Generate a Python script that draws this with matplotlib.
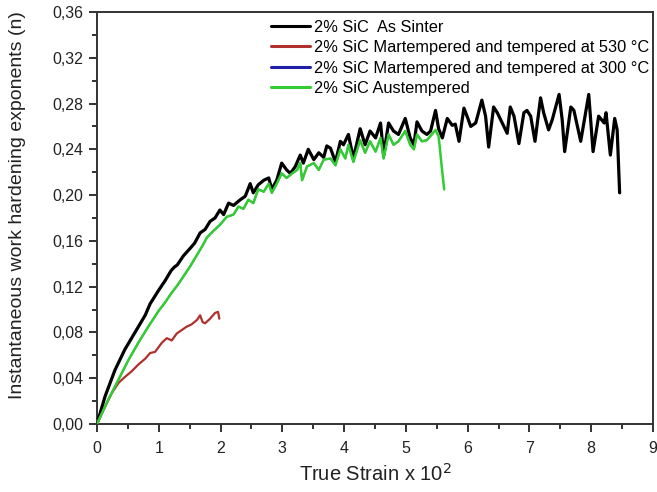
import matplotlib
matplotlib.use("Agg")
import matplotlib.pyplot as plt
from matplotlib.ticker import MultipleLocator, FuncFormatter

plt.rcParams['font.family'] = ['Liberation Sans', 'DejaVu Sans']

# 2% SiC as sintered
sinter_x = [0, 0.13, 0.29, 0.45, 0.56, 0.67, 0.78, 0.86, 1.0, 1.1,
            1.2, 1.25, 1.3, 1.4, 1.5, 1.58, 1.67, 1.75, 1.83, 1.91,
            1.99, 2.05, 2.13, 2.21, 2.32, 2.40, 2.48, 2.53, 2.61, 2.70,
            2.78, 2.83, 2.91, 2.99, 3.07, 3.13, 3.21, 3.29, 3.34, 3.42,
            3.51, 3.59, 3.67, 3.72, 3.78, 3.86, 3.94, 3.99, 4.07, 4.15,
            4.26, 4.34, 4.42, 4.51, 4.59, 4.64, 4.72, 4.80, 4.88, 4.99,
            5.07, 5.13, 5.18, 5.26, 5.34, 5.40, 5.48, 5.53, 5.59, 5.67,
            5.75, 5.80, 5.86, 5.94, 5.99, 6.05, 6.13, 6.23, 6.29, 6.34,
            6.42, 6.48, 6.56, 6.64, 6.69, 6.75, 6.83, 6.91, 6.96, 7.02,
            7.09, 7.18, 7.23, 7.31, 7.37, 7.48, 7.53, 7.57, 7.67, 7.72,
            7.83, 7.96, 8.03, 8.12, 8.21, 8.24, 8.31, 8.38, 8.42, 8.46]
sinter_n = [0, 0.024, 0.047, 0.065, 0.075, 0.085, 0.095, 0.105, 0.117, 0.125,
            0.134, 0.137, 0.139, 0.147, 0.153, 0.158, 0.167, 0.170, 0.177, 0.180,
            0.187, 0.183, 0.193, 0.191, 0.196, 0.199, 0.210, 0.202, 0.209, 0.213,
            0.215, 0.205, 0.213, 0.228, 0.222, 0.219, 0.225, 0.235, 0.228, 0.240,
            0.231, 0.237, 0.233, 0.243, 0.241, 0.229, 0.247, 0.244, 0.253, 0.232,
            0.258, 0.244, 0.256, 0.250, 0.263, 0.235, 0.263, 0.256, 0.253, 0.267,
            0.250, 0.244, 0.264, 0.256, 0.253, 0.256, 0.274, 0.258, 0.250, 0.267,
            0.261, 0.262, 0.247, 0.276, 0.269, 0.260, 0.263, 0.283, 0.269, 0.242,
            0.277, 0.272, 0.263, 0.254, 0.277, 0.269, 0.245, 0.272, 0.274, 0.269,
            0.247, 0.285, 0.272, 0.257, 0.266, 0.288, 0.266, 0.238, 0.277, 0.274,
            0.247, 0.288, 0.238, 0.269, 0.263, 0.272, 0.235, 0.267, 0.257, 0.202]

# 2% SiC martempered + tempered at 530 °C
mt530_x = [0, 0.13, 0.24, 0.35, 0.45, 0.56, 0.67, 0.78, 0.86, 0.94,
           1.05, 1.13, 1.21, 1.29, 1.37, 1.45, 1.53, 1.62, 1.67, 1.71,
           1.75, 1.83, 1.91, 1.96, 1.98]
mt530_n = [0, 0.015, 0.027, 0.036, 0.041, 0.046, 0.052, 0.057, 0.062, 0.063,
           0.071, 0.075, 0.073, 0.079, 0.082, 0.085, 0.087, 0.091, 0.095, 0.089,
           0.088, 0.092, 0.097, 0.098, 0.092]

# 2% SiC martempered + tempered at 300 °C (coincides with the austempered curve)
mt300_x = [0, 0.18, 0.35, 0.51, 0.67, 0.83, 1.0, 1.1, 1.2, 1.3,
           1.4, 1.5, 1.6, 1.7, 1.78, 1.89, 1.99, 2.10, 2.21, 2.29,
           2.37, 2.45, 2.53, 2.61, 2.70, 2.78, 2.83, 2.91, 2.99, 3.07,
           3.16, 3.24, 3.29, 3.32, 3.40, 3.51, 3.59, 3.67, 3.78, 3.86,
           3.94, 4.02, 4.07, 4.15, 4.26, 4.34, 4.42, 4.51, 4.59, 4.64,
           4.72, 4.80, 4.88, 4.99, 5.07, 5.13, 5.18, 5.26, 5.34, 5.42]
mt300_n = [0, 0.021, 0.039, 0.056, 0.071, 0.085, 0.099, 0.106, 0.114, 0.121,
           0.129, 0.137, 0.146, 0.155, 0.163, 0.169, 0.174, 0.181, 0.183, 0.190,
           0.188, 0.196, 0.193, 0.205, 0.203, 0.210, 0.202, 0.210, 0.219, 0.215,
           0.219, 0.222, 0.228, 0.213, 0.225, 0.228, 0.222, 0.231, 0.232, 0.226,
           0.240, 0.232, 0.244, 0.229, 0.248, 0.237, 0.247, 0.238, 0.250, 0.232,
           0.253, 0.244, 0.247, 0.256, 0.244, 0.240, 0.253, 0.247, 0.248, 0.253]

# 2% SiC austempered
aust_x = [0, 0.18, 0.35, 0.51, 0.67, 0.83, 1.0, 1.1, 1.2, 1.3,
          1.4, 1.5, 1.6, 1.7, 1.78, 1.89, 1.99, 2.10, 2.21, 2.29,
          2.37, 2.45, 2.53, 2.61, 2.70, 2.78, 2.83, 2.91, 2.99, 3.07,
          3.16, 3.24, 3.29, 3.32, 3.40, 3.51, 3.59, 3.67, 3.78, 3.86,
          3.94, 4.02, 4.07, 4.15, 4.26, 4.34, 4.42, 4.51, 4.59, 4.64,
          4.72, 4.80, 4.88, 4.99, 5.07, 5.13, 5.18, 5.26, 5.34, 5.42,
          5.48, 5.53, 5.55, 5.58, 5.62]
aust_n = [0, 0.021, 0.039, 0.056, 0.071, 0.085, 0.099, 0.106, 0.114, 0.121,
          0.129, 0.137, 0.146, 0.155, 0.163, 0.169, 0.174, 0.181, 0.183, 0.190,
          0.188, 0.196, 0.193, 0.205, 0.203, 0.210, 0.202, 0.210, 0.219, 0.215,
          0.219, 0.222, 0.228, 0.213, 0.225, 0.228, 0.222, 0.231, 0.232, 0.226,
          0.240, 0.232, 0.244, 0.229, 0.248, 0.237, 0.247, 0.238, 0.250, 0.232,
          0.253, 0.244, 0.247, 0.256, 0.244, 0.240, 0.253, 0.247, 0.248, 0.253,
          0.257, 0.251, 0.241, 0.225, 0.205]

fig = plt.figure(figsize=(6.57, 4.92), dpi=100)
ax = fig.add_axes([0.1476, 0.1382, 0.8463, 0.8374])

kw = dict(solid_joinstyle='round', solid_capstyle='round')
ax.plot(sinter_x, sinter_n, color='black', lw=2.3, label='2% SiC  As Sinter',
        zorder=3, **kw)
ax.plot(mt530_x, mt530_n, color='#b0302c', lw=1.6,
        label='2% SiC Martempered and tempered at 530 °C', zorder=4, **kw)
ax.plot(mt300_x, mt300_n, color='#1f1fa8', lw=1.2,
        label='2% SiC Martempered and tempered at 300 °C', zorder=2, **kw)
ax.plot(aust_x, aust_n, color='#33cc33', lw=1.8,
        label='2% SiC Austempered', zorder=5, **kw)

ax.set_xlim(0, 9)
ax.set_ylim(0, 0.36)
ax.xaxis.set_major_locator(MultipleLocator(1))
ax.xaxis.set_minor_locator(MultipleLocator(0.5))
ax.yaxis.set_major_locator(MultipleLocator(0.04))
ax.yaxis.set_minor_locator(MultipleLocator(0.02))
ax.yaxis.set_major_formatter(FuncFormatter(lambda v, p: f"{v:.2f}".replace('.', ',')))

ax.tick_params(which='both', direction='out', top=False, right=False,
               labelsize=11.5, colors='#222222', width=1.3)
ax.tick_params(which='major', length=6)
ax.tick_params(which='minor', length=3.5)
ax.tick_params(axis='x', which='major', pad=6)
ax.tick_params(axis='y', which='major', pad=4)
for s in ax.spines.values():
    s.set_linewidth(1.4)
    s.set_color('#333333')

ax.set_xlabel('True Strain x 10$^2$', fontsize=14.5, color='#222222', labelpad=5)
ax.set_ylabel('Instantaneous work hardening exponents (n)', fontsize=14,
              color='#222222')
ax.yaxis.set_label_coords(-0.127, 0.532)

leg = ax.legend(loc='upper left', bbox_to_anchor=(0.295, 1.005), frameon=False,
                fontsize=11.8, handlelength=2.4, handletextpad=0.25,
                labelspacing=0.33, borderaxespad=0.2)
for line in leg.get_lines():
    line.set_linewidth(2.2)

fig.savefig('out.png', dpi=100)
